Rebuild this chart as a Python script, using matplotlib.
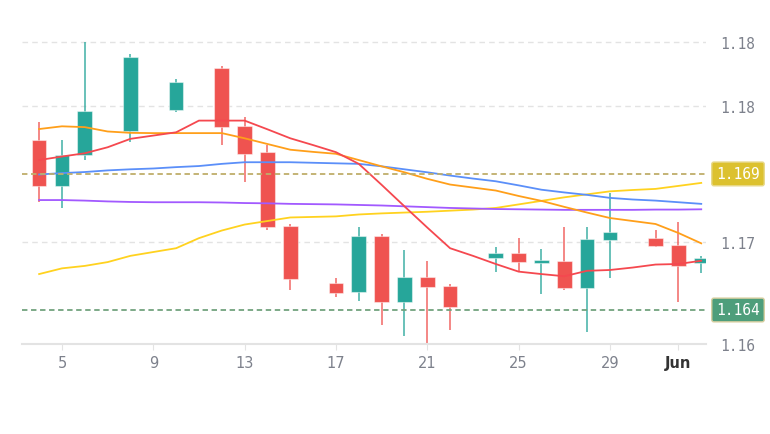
import numpy as np
import pandas as pd
import matplotlib
matplotlib.use("Agg")
import matplotlib.pyplot as plt
import matplotlib.dates as mdates
from matplotlib.transforms import blended_transform_factory

# daily candles
dates = ["2021-05-04", "2021-05-05", "2021-05-06", "2021-05-08", "2021-05-10", "2021-05-12",
         "2021-05-13", "2021-05-14", "2021-05-15", "2021-05-17", "2021-05-18", "2021-05-19",
         "2021-05-20", "2021-05-21", "2021-05-22", "2021-05-24", "2021-05-25", "2021-05-26",
         "2021-05-27", "2021-05-28", "2021-05-29", "2021-05-31", "2021-06-01", "2021-06-02"]
opens = [1.17026, 1.16857, 1.16971, 1.17056, 1.17136, 1.17291, 1.17075, 1.16980, 1.16708, 1.16498,
         1.16465, 1.16672, 1.16429, 1.16522, 1.16488, 1.16592, 1.16608, 1.16572, 1.16581, 1.16482,
         1.16658, 1.16666, 1.16640, 1.16574]
highs = [1.17092, 1.17026, 1.17384, 1.17340, 1.17249, 1.17297, 1.17108, 1.17007, 1.16716, 1.16518,
         1.16706, 1.16679, 1.16621, 1.16579, 1.16494, 1.16631, 1.16664, 1.16624, 1.16704, 1.16704,
         1.16829, 1.16695, 1.16725, 1.16600]
lows = [1.16798, 1.16775, 1.16951, 1.17017, 1.17129, 1.17007, 1.16869, 1.16694, 1.16475, 1.16449,
        1.16434, 1.16345, 1.16303, 1.16272, 1.16328, 1.16541, 1.16541, 1.16459, 1.16475, 1.16318,
        1.16518, 1.16633, 1.16428, 1.16535]
closes = [1.16857, 1.16971, 1.17131, 1.17328, 1.17237, 1.17074, 1.16974, 1.16706, 1.16513, 1.16463,
          1.16672, 1.16429, 1.16522, 1.16486, 1.16412, 1.16610, 1.16575, 1.16584, 1.16482, 1.16661,
          1.16687, 1.16636, 1.16563, 1.16590]

# moving average lines, one value per calendar day 4 May .. 2 Jun
line_dates = pd.date_range("2021-05-04", "2021-06-02")
ma_red = [1.16951, 1.16964, 1.16976, 1.16998, 1.17029, 1.17041, 1.17053, 1.17096, 1.17096, 1.17096,
          1.17064, 1.17031, 1.17006, 1.16980, 1.16937, 1.16860, 1.16781, 1.16703, 1.16627, 1.16599,
          1.16569, 1.16541, 1.16532, 1.16524, 1.16544, 1.16547, 1.16556, 1.16567, 1.16569, 1.16581]
ma_orange = [1.17065, 1.17075, 1.17072, 1.17056, 1.17051, 1.17050, 1.17050, 1.17050, 1.17050, 1.17031,
             1.17010, 1.16989, 1.16981, 1.16974, 1.16951, 1.16928, 1.16906, 1.16882, 1.16861, 1.16850,
             1.16839, 1.16819, 1.16801, 1.16779, 1.16758, 1.16738, 1.16727, 1.16716, 1.16683, 1.16645]
ma_blue = [1.16898, 1.16903, 1.16907, 1.16913, 1.16917, 1.16920, 1.16925, 1.16929, 1.16937, 1.16943,
           1.16943, 1.16943, 1.16941, 1.16939, 1.16937, 1.16928, 1.16917, 1.16906, 1.16894, 1.16883,
           1.16873, 1.16858, 1.16842, 1.16832, 1.16823, 1.16812, 1.16806, 1.16802, 1.16796, 1.16790]
ma_purple = [1.16804, 1.16804, 1.16802, 1.16799, 1.16797, 1.16796, 1.16796, 1.16796, 1.16795, 1.16793,
             1.16792, 1.16790, 1.16789, 1.16788, 1.16786, 1.16784, 1.16781, 1.16778, 1.16775, 1.16773,
             1.16771, 1.16770, 1.16769, 1.16768, 1.16768, 1.16768, 1.16768, 1.16769, 1.16769, 1.16770]
ma_yellow = [1.16532, 1.16553, 1.16562, 1.16576, 1.16599, 1.16613, 1.16627, 1.16664, 1.16692, 1.16714,
             1.16727, 1.16740, 1.16742, 1.16744, 1.16751, 1.16755, 1.16758, 1.16761, 1.16765, 1.16769,
             1.16775, 1.16788, 1.16801, 1.16814, 1.16825, 1.16836, 1.16841, 1.16845, 1.16856, 1.16867]

resistance = 1.169
support = 1.164
ytick_values = [1.16275, 1.1665, 1.1715, 1.17385]
ytick_labels = ["1.16", "1.17", "1.18", "1.18"]
xtick_dates = ["2021-05-05", "2021-05-09", "2021-05-13", "2021-05-17", "2021-05-21",
               "2021-05-25", "2021-05-29", "2021-06-01"]
xtick_labels = ["5", "9", "13", "17", "21", "25", "29", "Jun"]

UP = "#26a69a"
DOWN = "#ef5350"

fig = plt.figure(figsize=(7.7, 4.35), dpi=100)
ax = fig.add_axes([22 / 770, 90 / 435, 684 / 770, 320 / 435])

x = mdates.date2num(pd.to_datetime(dates))
o = np.array(opens)
c = np.array(closes)
colors = [UP if cc >= oo else DOWN for oo, cc in zip(o, c)]

ax.vlines(x, lows, highs, colors=colors, lw=1.3, alpha=0.75, zorder=2)
body_h = np.maximum(np.abs(c - o), 0.00008)
ax.bar(x, body_h, bottom=np.minimum(o, c), width=0.64, color=colors,
       edgecolor=[(1, 1, 1, 0.45)] * len(x), linewidth=0.8, zorder=3)

lx = mdates.date2num(line_dates)
ax.plot(lx, ma_yellow, color="#ffd21f", lw=1.3, zorder=4)
ax.plot(lx, ma_purple, color="#a259ff", lw=1.3, zorder=4)
ax.plot(lx, ma_blue, color="#5b8ff9", lw=1.3, zorder=4)
ax.plot(lx, ma_orange, color="#ff9f1a", lw=1.3, zorder=4)
ax.plot(lx, ma_red, color="#f5484f", lw=1.3, zorder=4)

ax.axhline(resistance, color="#bfae6a", lw=1.3, ls=(0, (3, 2)), zorder=5)
ax.axhline(support, color="#72a27e", lw=1.3, ls=(0, (3, 2)), zorder=5)

ax.set_xlim(mdates.date2num(pd.Timestamp("2021-05-03 06:00")),
            mdates.date2num(pd.Timestamp("2021-06-02 05:00")))
ax.set_ylim(1.16275, 1.17451)

ax.set_yticks(ytick_values)
ax.set_yticklabels(ytick_labels)
ax.yaxis.tick_right()
ax.tick_params(axis="y", length=0, pad=10, labelsize=10.5, labelcolor="#7d818c")
for lab in ax.get_yticklabels():
    lab.set_family("DejaVu Sans Mono")
ax.grid(axis="y", color="#e3e3e3", ls=(0, (4, 3)), lw=1)

ax.set_xticks(mdates.date2num(pd.to_datetime(xtick_dates)))
ax.set_xticklabels(xtick_labels)
ax.tick_params(axis="x", length=4, color="#e3e3e3", pad=4, labelsize=10.5, labelcolor="#7d818c")
ax.get_xticklabels()[-1].set_fontweight("bold")
ax.get_xticklabels()[-1].set_color("#333333")

for s in ["top", "left", "right"]:
    ax.spines[s].set_visible(False)
ax.spines["bottom"].set_color("#e3e3e3")
ax.spines["bottom"].set_linewidth(1.5)

tr = blended_transform_factory(fig.transFigure, ax.transData)
ax.text(738 / 770, resistance, "1.169", transform=tr, ha="center", va="center",
        color="white", fontsize=10.5, family="DejaVu Sans Mono", clip_on=False,
        bbox=dict(boxstyle="round,pad=0.3,rounding_size=0.15", fc="#dcc12f", ec="#e8d98a", lw=1))
ax.text(738 / 770, support, "1.164", transform=tr, ha="center", va="center",
        color="white", fontsize=10.5, family="DejaVu Sans Mono", clip_on=False,
        bbox=dict(boxstyle="round,pad=0.3,rounding_size=0.15", fc="#4e9e7b", ec="#d8cfa0", lw=1))

fig.savefig("out.png", dpi=100)
